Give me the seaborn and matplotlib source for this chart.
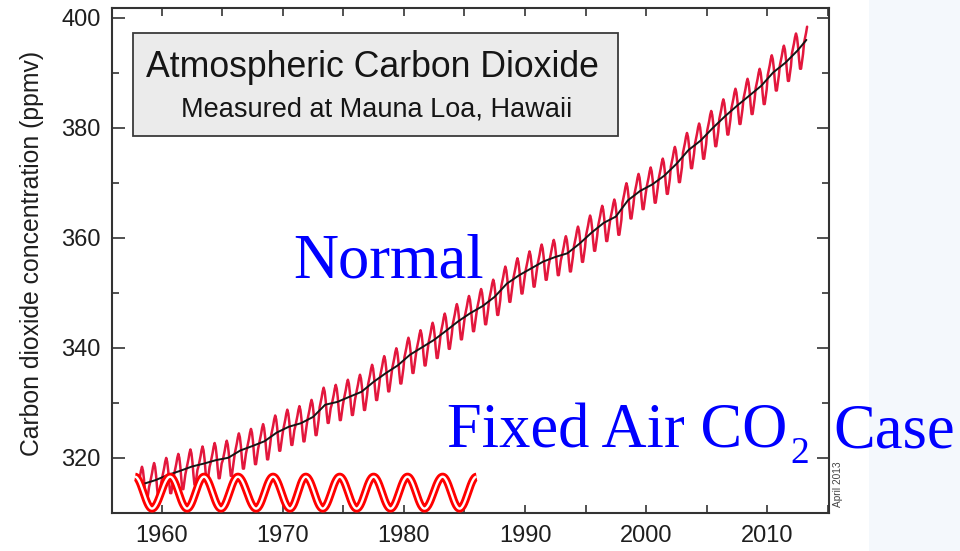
import numpy as np
import pandas as pd
import matplotlib
matplotlib.use("Agg")
import matplotlib.pyplot as plt
from matplotlib.patches import Rectangle
from matplotlib.ticker import MultipleLocator
import seaborn as sns

# Mauna Loa annual mean CO2 (ppmv), 1958 .. 2013
years = list(range(1958, 2014))
annual_mean = [
    315.3, 315.98, 316.91, 317.64, 318.45, 318.99, 319.62, 320.04, 321.37, 322.18,
    323.05, 324.62, 325.68, 326.32, 327.46, 329.68, 330.19, 331.12, 332.03, 333.84,
    335.41, 336.84, 338.76, 340.12, 341.48, 343.15, 344.87, 346.35, 347.61, 349.31,
    351.69, 353.20, 354.45, 355.70, 356.54, 357.21, 358.96, 360.97, 362.74, 363.88,
    366.84, 368.54, 369.71, 371.32, 373.45, 375.98, 377.70, 379.98, 382.09, 384.02,
    385.83, 387.64, 390.10, 391.85, 394.06, 396.0,
]
# typical monthly departure from the annual mean, Jan .. Dec
month_offset = [-0.5, 0.4, 1.3, 2.4, 3.1, 2.4, 0.8, -1.5, -3.3, -3.3, -1.9, -0.6]
record_start = (1958, 3)   # March 1958
record_end = (2013, 4)     # April 2013

# "fixed air CO2" illustration: turning points of the seasonal swing
fixed_years = [1957.8, 1959.2, 1960.7, 1962.1, 1963.5, 1964.9, 1966.3, 1967.8,
               1969.2, 1970.6, 1971.9, 1973.3, 1974.7, 1976.1, 1977.5, 1978.9,
               1980.3, 1981.7, 1983.2, 1984.6, 1986.0]
fixed_ppm = [316.6, 310.8] * 10 + [316.6]

# monthly record
rows = []
for y, mean in zip(years, annual_mean):
    for m in range(1, 13):
        if (y, m) < record_start or (y, m) > record_end:
            continue
        rows.append({"year": y + (m - 0.5) / 12.0, "ppm": mean + month_offset[m - 1]})
monthly = pd.DataFrame(rows)
end_year = record_end[0] + record_end[1] / 12.0

trend = pd.DataFrame({
    "year": np.minimum(np.array(years) + 0.5, end_year - 0.1),
    "ppm": annual_mean,
})

# smooth half-cosine swing between the turning points
wx, wy = [], []
t = np.linspace(0, 1, 30)
for (x0, x1), (y0, y1) in zip(zip(fixed_years[:-1], fixed_years[1:]),
                              zip(fixed_ppm[:-1], fixed_ppm[1:])):
    wx.extend(x0 + (x1 - x0) * t)
    wy.extend(y0 + (y1 - y0) * (1 - np.cos(np.pi * t)) / 2)
fixed = pd.DataFrame({"year": wx, "ppm": wy})

sns.set_theme(style="ticks")
plt.rcParams["font.family"] = ["Liberation Sans", "DejaVu Sans"]

W, H = 960, 551
fig = plt.figure(figsize=(W / 100, H / 100), dpi=100, facecolor="white")

# pale panel on the right edge
fig.patches.append(Rectangle((869 / W, 0), (W - 869) / W, 1, transform=fig.transFigure,
                             facecolor="#f4f8fc", edgecolor="none", zorder=0))

ax = fig.add_axes([112 / W, 1 - 513 / H, (829 - 112) / W, (513 - 8) / H])
ax.set_facecolor("white")

sns.lineplot(data=monthly, x="year", y="ppm", ax=ax, color="#e3173d", lw=1.8,
             estimator=None, zorder=2)
sns.lineplot(data=trend, x="year", y="ppm", ax=ax, color="#151515", lw=1.4,
             estimator=None, zorder=3)
sns.lineplot(data=fixed, x="year", y="ppm", ax=ax, color="#ff0000", lw=5.8,
             estimator=None, sort=False, zorder=4, solid_capstyle="butt")
sns.lineplot(data=fixed, x="year", y="ppm", ax=ax, color="white", lw=1.7,
             estimator=None, sort=False, zorder=5, solid_capstyle="butt")

ax.set_xlim(1955.9, 2015.1)
ax.set_ylim(310.0, 401.8)
ax.xaxis.set_major_locator(MultipleLocator(10))
ax.xaxis.set_minor_locator(MultipleLocator(5))
ax.yaxis.set_major_locator(MultipleLocator(20))
ax.yaxis.set_minor_locator(MultipleLocator(10))

for s in ax.spines.values():
    s.set_visible(True)
    s.set_color("#333333")
    s.set_linewidth(1.5)

ax.tick_params(which="both", direction="in", top=True, right=True,
               color="#333333", width=1.2, labelcolor="#1e1e1e", labelsize=17)
ax.tick_params(axis="x", which="both", length=6, pad=9)
ax.tick_params(axis="y", which="major", length=9, pad=8)
ax.tick_params(axis="y", which="minor", length=5)

ax.set_xlabel("")
ax.set_ylabel("Carbon dioxide concentration (ppmv)", fontsize=17.8, color="#1e1e1e",
              va="center")
ax.yaxis.set_label_coords((32 - 112) / (829 - 112), (513 - 253) / (513 - 8))

# title box
fig.patches.append(Rectangle((133 / W, 1 - 136 / H), (618 - 133) / W, 103 / H,
                             transform=fig.transFigure, facecolor="#ebebeb",
                             edgecolor="#3a3a3a", lw=1.3, zorder=6))
fig.text(372 / W, 1 - 77 / H, "Atmospheric Carbon Dioxide", ha="center",
         va="baseline", fontsize=25.7, color="#151515", zorder=7)
fig.text(377 / W, 1 - 117 / H, "Measured at Mauna Loa, Hawaii", ha="center",
         va="baseline", fontsize=19.5, color="#151515", zorder=7)

fig.text(838 / W, 1 - 484 / H, "April 2013", rotation=90, ha="center",
         va="center", fontsize=7.3, color="#444444", zorder=7)

serif = ["Liberation Serif", "DejaVu Serif"]
blue = "#0000ff"
fig.text(293 / W, 1 - 277 / H, "Normal", family=serif, fontsize=45,
         color=blue, va="baseline", ha="left", zorder=8)
fig.text(447 / W, 1 - 448 / H, "Fixed Air CO", family=serif, fontsize=45,
         color=blue, va="baseline", ha="left", zorder=8)
fig.text(790 / W, 1 - 463 / H, "2", family=serif, fontsize=27,
         color=blue, va="baseline", ha="left", zorder=8)
fig.text(833 / W, 1 - 448 / H, "Case", family=serif, fontsize=45,
         color=blue, va="baseline", ha="left", zorder=8)

fig.savefig("out.png", dpi=100, facecolor="white")
